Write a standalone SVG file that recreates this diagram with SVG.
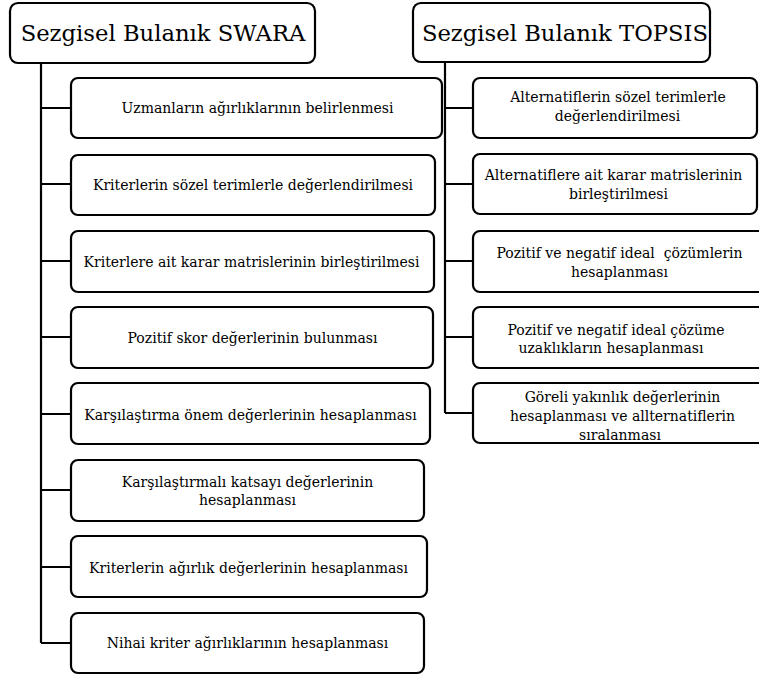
<svg xmlns="http://www.w3.org/2000/svg" width="759" height="677" viewBox="0 0 759 677">
<style>
.box{fill:#fff;stroke:#000;stroke-width:2.2}
text{text-anchor:middle;fill:#000}
.hdr{font-size:22.7px}
.t{font-size:14px}
.c{fill:none;stroke:#000;stroke-width:2.2}
</style>
<rect width="759" height="677" fill="#fff"/>
<g id="connectors">
<path class="c" d="M41 63V643M41 108H71M41 184H71M41 261H71M41 337H71M41 414H71M41 490H71M41 567H71M41 643H71"/>
<path class="c" d="M445 62V413M445 108H473M445 184H473M445 261H473M445 337H473M445 413H473"/>
</g>
<g id="swara"><rect class="box" x="10" y="3" width="305" height="60" rx="8"/><text class="hdr" font-family="DejaVu Serif" x="163" y="41">Sezgisel Bulanık SWARA</text></g>
<g id="topsis"><rect class="box" x="413" y="3" width="297" height="59" rx="8"/><text class="hdr" font-family="DejaVu Serif" x="565" y="41">Sezgisel Bulanık TOPSIS</text></g>
<g id="s1"><rect class="box" x="71" y="78" width="371" height="60" rx="7"/><text class="t" font-family="DejaVu Serif" x="257.5" y="113">Uzmanların ağırlıklarının belirlenmesi</text></g>
<g id="s2"><rect class="box" x="71" y="155" width="364" height="60" rx="7"/><text class="t" font-family="DejaVu Serif" x="253" y="190">Kriterlerin sözel terimlerle değerlendirilmesi</text></g>
<g id="s3"><rect class="box" x="71" y="231" width="363" height="61" rx="7"/><text class="t" font-family="DejaVu Serif" x="251.5" y="267">Kriterlere ait karar matrislerinin birleştirilmesi</text></g>
<g id="s4"><rect class="box" x="71" y="307" width="362" height="61" rx="7"/><text class="t" font-family="DejaVu Serif" x="252.5" y="343">Pozitif skor değerlerinin bulunması</text></g>
<g id="s5"><rect class="box" x="71" y="383" width="359" height="61" rx="7"/><text class="t" font-family="DejaVu Serif" x="250.5" y="420">Karşılaştırma önem değerlerinin hesaplanması</text></g>
<g id="s6"><rect class="box" x="71" y="460" width="353" height="61" rx="7"/><text class="t" font-family="DejaVu Serif" x="247.5" y="487">Karşılaştırmalı katsayı değerlerinin</text><text class="t" font-family="DejaVu Serif" x="247.5" y="505">hesaplanması</text></g>
<g id="s7"><rect class="box" x="71" y="536" width="356" height="61" rx="7"/><text class="t" font-family="DejaVu Serif" x="248.5" y="573">Kriterlerin ağırlık değerlerinin hesaplanması</text></g>
<g id="s8"><rect class="box" x="71" y="613" width="353" height="60" rx="7"/><text class="t" font-family="DejaVu Serif" x="247.5" y="648">Nihai kriter ağırlıklarının hesaplanması</text></g>
<g id="t1"><rect class="box" x="473" y="78" width="284" height="60" rx="7"/><text class="t" font-family="DejaVu Serif" x="618" y="102">Alternatiflerin sözel terimlerle</text><text class="t" font-family="DejaVu Serif" x="617.5" y="121">değerlendirilmesi</text></g>
<g id="t2"><rect class="box" x="473" y="154" width="284" height="60" rx="7"/><text class="t" font-family="DejaVu Serif" x="613.5" y="180">Alternatiflere ait karar matrislerinin</text><text class="t" font-family="DejaVu Serif" x="618.5" y="199">birleştirilmesi</text></g>
<g id="t3"><rect class="box" x="473" y="231" width="296" height="61" rx="7"/><text class="t" font-family="DejaVu Serif" x="619.5" y="258" xml:space="preserve">Pozitif ve negatif ideal  çözümlerin</text><text class="t" font-family="DejaVu Serif" x="619.5" y="277">hesaplanması</text></g>
<g id="t4"><rect class="box" x="473" y="307" width="296" height="61" rx="7"/><text class="t" font-family="DejaVu Serif" x="616" y="335">Pozitif ve negatif ideal çözüme</text><text class="t" font-family="DejaVu Serif" x="611" y="353">uzaklıkların hesaplanması</text></g>
<g id="t5"><rect class="box" x="473" y="383" width="296" height="60" rx="7"/><text class="t" font-family="DejaVu Serif" x="622.5" y="402">Göreli yakınlık değerlerinin</text><text class="t" font-family="DejaVu Serif" x="622.5" y="421">hesaplanması ve allternatiflerin</text><text class="t" font-family="DejaVu Serif" x="620" y="440">sıralanması</text></g>
</svg>
